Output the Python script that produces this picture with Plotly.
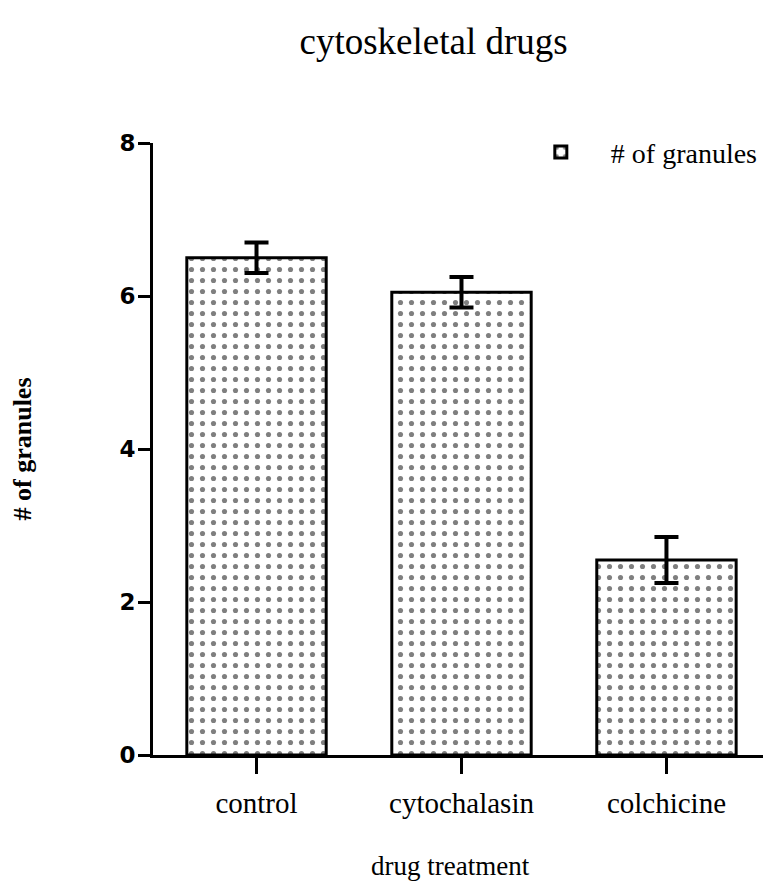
import plotly.graph_objects as go

categories = ["control", "cytochalasin", "colchicine"]
values = [6.5, 6.05, 2.55]
errors = [0.2, 0.2, 0.3]
series_name = "# of granules"
y_ticks = [0, 2, 4, 6, 8]

serif = "Liberation Serif, Times New Roman, serif"

fig = go.Figure()
fig.add_trace(go.Bar(
    x=categories,
    y=values,
    name=series_name,
    marker=dict(
        color="white",
        line=dict(color="black", width=3),
        pattern=dict(shape=".", size=11, solidity=0.17, fgcolor="black", bgcolor="white"),
    ),
    error_y=dict(type="data", array=errors, visible=True, color="black", thickness=4, width=12),
    showlegend=True,
))

fig.update_layout(
    width=771, height=888,
    margin=dict(l=145, r=8, t=135, b=141, autoexpand=False),
    paper_bgcolor="white", plot_bgcolor="white",
    bargap=0.32,
    title=dict(text="cytoskeletal drugs", x=0.552, xanchor="center", y=0.963, yanchor="middle",
               yref="container", font=dict(family=serif, size=37, color="black")),
    font=dict(family=serif, color="black"),
    legend=dict(x=0.579, y=0.985, xanchor="left", yanchor="middle", bgcolor="rgba(0,0,0,0)",
                font=dict(family=serif, size=28, color="black"), itemwidth=90),
    xaxis=dict(
        range=[-0.505, 2.51], showline=True, linecolor="black", linewidth=3,
        ticks="outside", ticklen=16, tickwidth=3, tickcolor="black",
        tickfont=dict(family=serif, size=29, color="black"), ticklabelstandoff=4,
        showgrid=False, zeroline=False, automargin=False,
    ),
    yaxis=dict(
        range=[0, 8], tickvals=y_ticks, showline=True, linecolor="black", linewidth=3,
        ticks="outside", ticklen=12, tickwidth=3, tickcolor="black",
        tickfont=dict(family="DejaVu Sans, sans-serif", size=23, color="black", weight="bold"),
        ticklabelstandoff=-2,
        showgrid=False, zeroline=False, automargin=False,
        title=dict(text="# of granules", font=dict(family=serif, size=26, color="black", weight="bold"), standoff=96),
    ),
    annotations=[dict(
        text="drug treatment", xref="paper", yref="paper", x=0.482, y=-0.181,
        xanchor="center", yanchor="middle", showarrow=False,
        font=dict(family=serif, size=27, color="black"),
    )],
)

fig.write_html("out.html")
